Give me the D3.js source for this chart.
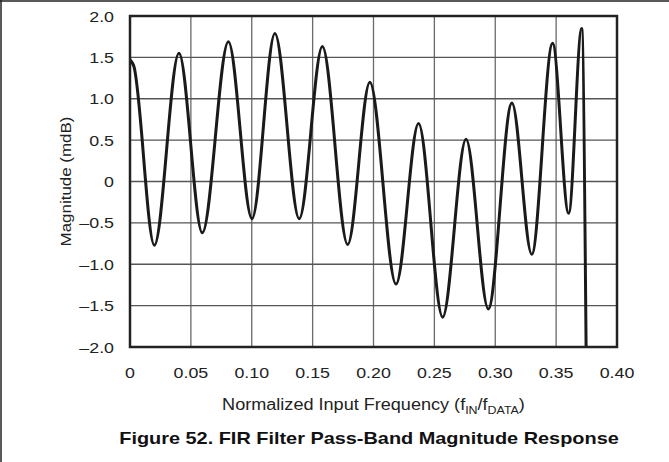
<!DOCTYPE html>
<html><head><meta charset="utf-8">
<script src="https://cdn.jsdelivr.net/npm/d3@7/dist/d3.min.js"></script>
<style>html,body{margin:0;padding:0;background:#fff}svg{display:block}</style>
</head><body>
<script>
const freq = [0, 0.003, 0.020, 0.0402, 0.0594, 0.0808, 0.1002, 0.119, 0.139, 0.158, 0.1788, 0.197, 0.2185, 0.237, 0.2568, 0.276, 0.2943, 0.3137, 0.330, 0.3471, 0.3603, 0.371, 0.3748];
const magnitude = [1.47, 1.40, -0.77, 1.55, -0.62, 1.69, -0.45, 1.79, -0.45, 1.63, -0.76, 1.20, -1.24, 0.70, -1.64, 0.51, -1.54, 0.95, -0.88, 1.67, -0.385, 1.85, -2.3];
const xTicks = [0, 0.05, 0.10, 0.15, 0.20, 0.25, 0.30, 0.35, 0.40];
const xTickLabels = ["0", "0.05", "0.10", "0.15", "0.20", "0.25", "0.30", "0.35", "0.40"];
const yTicks = [2.0, 1.5, 1.0, 0.5, 0, -0.5, -1.0, -1.5, -2.0];
const yTickLabels = ["2.0", "1.5", "1.0", "0.5", "0", "\u20130.5", "\u20131.0", "\u20131.5", "\u20132.0"];

const W = 669, H = 462;
const m = {left: 130, top: 16, right: 617, bottom: 347};
const font = "Arial, 'Liberation Sans', Helvetica, sans-serif";
const SX = 1.15;

const svg = d3.select("body").append("svg").attr("width", W).attr("height", H);
svg.append("rect").attr("width", W).attr("height", H).attr("fill", "#fff");
svg.append("line").attr("x1", 0).attr("x2", W).attr("y1", 1).attr("y2", 1).attr("stroke", "#222").attr("stroke-width", 1.5);
svg.append("line").attr("x1", 1).attr("x2", 1).attr("y1", 0).attr("y2", H).attr("stroke", "#222").attr("stroke-width", 1.5);

const x = d3.scaleLinear().domain([0, 0.40]).range([m.left, m.right]);
const y = d3.scaleLinear().domain([-2, 2]).range([m.bottom, m.top]);

const g = svg.append("g");
g.selectAll("line.vx").data(xTicks.slice(1, -1)).enter().append("line")
  .attr("x1", d => x(d)).attr("x2", d => x(d)).attr("y1", m.top).attr("y2", m.bottom)
  .attr("stroke", "#6a6a6a").attr("stroke-width", 1.3);
g.selectAll("line.hy").data(yTicks.slice(1, -1)).enter().append("line")
  .attr("x1", m.left).attr("x2", m.right).attr("y1", d => y(d)).attr("y2", d => y(d))
  .attr("stroke", "#555").attr("stroke-width", 1.3);

svg.append("clipPath").attr("id", "clip").append("rect")
  .attr("x", m.left).attr("y", m.top).attr("width", m.right - m.left).attr("height", m.bottom - m.top);
const pts = freq.map((f, i) => [f, magnitude[i]]);
const line = d3.line().x(d => x(d[0])).y(d => y(d[1])).curve(d3.curveMonotoneX);
svg.append("path").attr("d", line(pts)).attr("clip-path", "url(#clip)")
  .attr("fill", "none").attr("stroke", "#1a1a1a").attr("stroke-width", 3).attr("stroke-linejoin", "round");

svg.append("rect").attr("x", m.left).attr("y", m.top).attr("width", m.right - m.left).attr("height", m.bottom - m.top)
  .attr("fill", "none").attr("stroke", "#222").attr("stroke-width", 2.5);

function label(px, py, size, anchor, sx, rot) {
  return svg.append("text")
    .attr("transform", `translate(${px},${py})` + (rot ? ` rotate(${rot})` : "") + ` scale(${sx},1)`)
    .attr("text-anchor", anchor).attr("dy", "0.36em")
    .attr("font-family", font).attr("font-size", size).attr("fill", "#222");
}

yTicks.forEach((d, i) => label(114, y(d), 15.5, "end", SX).text(yTickLabels[i]));
xTicks.forEach((d, i) => label(x(d), 372, 15.5, "middle", SX).text(xTickLabels[i]));

label(66, (m.top + m.bottom) / 2, 15, "middle", 1.13, -90).text("Magnitude (mdB)");

const xt = label(373.5, 404, 16, "middle", 1.13);
xt.append("tspan").text("Normalized Input Frequency (f");
xt.append("tspan").attr("font-size", 11).attr("dy", 4).text("IN");
xt.append("tspan").attr("dy", -4).text("/f");
xt.append("tspan").attr("font-size", 11).attr("dy", 4).text("DATA");
xt.append("tspan").attr("dy", -4).text(")");

label(369, 438, 17, "middle", 1.17).attr("font-weight", "bold").attr("fill", "#111")
  .text("Figure 52. FIR Filter Pass-Band Magnitude Response");
</script>
</body></html>
